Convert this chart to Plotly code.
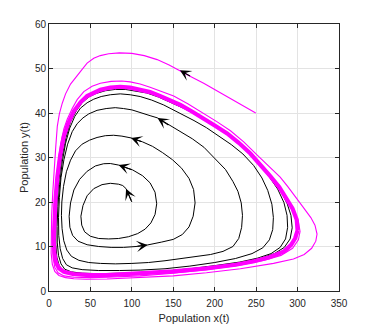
import plotly.graph_objects as go

# ---- black trajectory (spiral outward towards the limit cycle) ----
black_x = [100, 93, 89, 84, 74, 64, 54, 46, 41, 38.5, 39.5, 43, 50, 60, 72, 84, 96, 107, 116, 123, 128, 130,
           128, 122, 113, 101, 84, 74, 66, 56, 46, 37, 30, 26, 24.3, 25.2, 28.5, 35, 46, 60, 75, 90, 105, 119,
           136, 150, 161, 169, 174, 176.3, 174.5, 169, 160, 149, 137, 125, 113, 99, 88, 78, 68, 58, 49, 40,
           32, 26, 21, 17.5, 15.5, 15, 15.8, 17.8, 21.5, 27, 36, 48, 62, 80, 100, 120, 140, 160, 180, 195, 210,
           222, 229, 232.5, 233.5, 232, 228, 222, 213, 200, 187, 173, 159, 146, 131, 122, 110, 100, 90, 80, 69,
           58, 48, 41, 34, 28, 22.5, 18, 14.5, 12.5, 11.5, 11.8, 13.5, 16.5, 21, 28, 40, 60, 85, 110, 140, 170,
           200, 225, 245, 258, 266, 270, 270.8, 269, 264, 257, 247, 234, 220, 205, 190, 175, 162, 150, 138.5,
           124, 110, 98, 86, 74, 63, 54, 46, 38, 31, 25, 20, 16, 12.8, 10.7, 9.8, 10, 11.5, 14.5, 19, 27, 40, 60,
           85, 110, 140, 170, 200, 230, 252, 268, 279, 285.5, 288, 287.3, 283.5, 276, 266, 254, 240, 225, 210,
           194, 178, 162, 147, 132, 118, 104, 92, 80, 68, 57, 48, 40, 33, 26, 20.5, 15.5, 12, 9.5, 8.2, 8.2, 9.5,
           12.3, 17, 25, 40, 60, 85, 110, 140, 170, 200, 230, 255, 272, 284, 291, 293.5, 292, 287.5, 281]
black_y = [20, 23.0, 23.7, 24.0, 24.2, 23.9, 23.0, 21.4, 19.2, 16.8, 14.8, 13.3, 12.3, 11.8, 11.7, 11.8, 12.2,
           12.9, 13.9, 15.3, 17.2, 19.6, 22.2, 24.3, 25.9, 27.2, 28.3, 28.65, 28.6, 28.1, 26.9, 25.1, 22.7, 19.8,
           16.8, 14.3, 12.5, 11.2, 10.4, 10.0, 9.8, 9.8, 10.0, 10.35, 11.0, 11.6, 12.7, 14.4, 16.8, 19.8, 22.8,
           25.3, 27.6, 29.5, 31.1, 32.5, 33.5, 34.4, 34.8, 35.0, 34.9, 34.5, 33.9, 33.0, 31.5, 29.4, 26.8, 23.5,
           20, 17, 14, 11.3, 9.2, 7.8, 6.9, 6.4, 6.2, 6.1, 6.2, 6.4, 6.8, 7.3, 7.7, 8.2, 8.9, 10.0, 11.8, 14.3,
           17.0, 19.8, 22.4, 24.6, 27.3, 29.9, 32.3, 34.2, 35.8, 37.1, 38.9, 39.4, 40.2, 40.7, 41.0, 41.2, 41.0,
           40.6, 39.8, 38.9, 37.6, 35.8, 33, 29.5, 25.5, 21, 16.5, 12.5, 9.5, 7.3, 5.9, 5.2, 4.8, 4.6, 4.6, 4.7,
           5.0, 5.6, 6.4, 7.3, 8.4, 9.7, 11.5, 13.8, 16.5, 19.5, 22.6, 25.4, 28.2, 30.8, 32.9, 34.9, 36.7, 38.3,
           39.5, 40.6, 41.8, 42.9, 43.7, 44.1, 44.3, 44.1, 43.7, 43.1, 42.3, 41.1, 39.2, 36.6, 33.2, 29, 24, 19,
           14.5, 10.8, 8, 6.1, 4.9, 4.3, 4.0, 3.9, 3.95, 4.1, 4.5, 5.0, 5.7, 6.5, 7.4, 8.4, 9.8, 11.7, 14.3, 17,
           19.9, 22.9, 25.6, 28.5, 31.3, 33.8, 35.9, 37.8, 39.6, 41.1, 42.4, 43.6, 44.5, 45.0, 45.3, 45.3, 45.0,
           44.4, 43.6, 42.3, 40.5, 38, 34.5, 30, 25, 19.5, 14.5, 10.5, 7.6, 5.7, 4.6, 4.0, 3.75, 3.7, 3.75, 3.95,
           4.35, 4.85, 5.5, 6.3, 7.3, 8.4, 9.8, 11.7, 14.2, 17, 19.6, 22.0]

# ---- magenta trajectory (starts outside, winds in onto the limit cycle) ----
mag_x = [249.5, 232, 215, 200, 186.7, 172, 158, 145, 130.5, 115, 100, 85, 72, 62, 54, 46, 40, 33, 26, 20, 16,
         12.5, 10, 8, 6, 4.5, 3.2, 2.5, 2.6, 4, 7, 12, 20, 30, 45, 70, 110, 150, 190, 231, 271, 295, 308, 317,
         322, 323.5, 321, 316, 306, 297, 288, 279, 270, 259.5, 251, 235, 219, 203, 186.7, 168, 150.5, 134.5,
         122, 110, 98, 88, 75, 62, 52, 42, 34, 28, 22, 18, 14, 10.5, 7.5, 5.5, 4.5, 5, 7, 11, 18, 30, 50, 70,
         110, 150, 190, 230, 260, 280, 294, 301, 303, 301, 296, 290, 283, 270, 255]
mag_y = [40.0, 41.9, 43.6, 45.2, 46.7, 48.1, 49.6, 50.8, 52.0, 52.9, 53.4, 53.5, 53.3, 52.9, 52.3, 51.2, 49.8,
         48.2, 46.5, 44.3, 42.2, 39.8, 37, 32, 27, 22, 17, 12, 8.5, 6, 4.4, 3.5, 3.0, 2.75, 2.65, 2.7, 3.0,
         3.4, 4.1, 5.0, 6.2, 7.2, 8.2, 9.6, 11.2, 12.8, 14.8, 16.5, 19, 21.3, 23.5, 25.6, 27.2, 28.9, 30.6,
         33.5, 36.0, 38.0, 39.9, 42.0, 43.8, 45.0, 45.8, 46.5, 47.0, 47.2, 47.1, 46.7, 46.0, 44.8, 43.0, 41.0,
         38.6, 36.5, 33, 28, 22, 16, 11, 7.5, 5.3, 4.1, 3.4, 3.1, 3.0, 3.1, 3.4, 4.0, 4.8, 5.8, 6.9, 8.0, 9.6,
         11.5, 13.4, 15.6, 17.6, 19.6, 21.8, 25.2, 28.6]

# ---- limit cycle (thick magenta band) ----
cyc_x = [300, 299, 294, 287, 278, 267, 255, 243, 229, 215, 200, 186.7, 172, 158.6, 146, 134.5, 122, 110, 98,
         86, 74, 62, 53, 46, 38, 30, 23, 18, 13.5, 10, 7.8, 6.3, 5.8, 6.5, 8.5, 12, 18, 30, 50, 70, 110, 150,
         190, 225, 247.5, 266, 283.6, 292, 297, 300]
cyc_y = [13.6, 16.0, 18.5, 20.8, 23.3, 25.8, 28.5, 30.9, 33.3, 35.4, 37.2, 38.8, 40.4, 41.8, 42.9, 43.8, 44.7,
         45.3, 45.7, 45.9, 45.7, 45.2, 44.5, 43.8, 42.4, 40.4, 37.6, 34.8, 30.5, 25.5, 20.4, 15.5, 11.5, 8.5,
         6.4, 5.1, 4.3, 3.8, 3.55, 3.55, 3.9, 4.4, 5.1, 5.9, 6.7, 7.6, 8.9, 10.3, 11.8, 13.6]

# arrow heads: index of the tip point along each trajectory (tail = previous point)
black_arrows = [1, 26, 43, 57, 98]
mag_arrows = [6]

x_ticks = [0, 50, 100, 150, 200, 250, 300, 350]
y_ticks = [0, 10, 20, 30, 40, 50, 60]

FONT = "Liberation Sans, Arial, sans-serif"

fig = go.Figure()
fig.add_trace(go.Scatter(x=black_x, y=black_y, mode="lines",
                         line=dict(color="#000000", width=1.0), hoverinfo="skip"))
fig.add_trace(go.Scatter(x=cyc_x, y=cyc_y, mode="lines",
                         line=dict(color="#ff00ff", width=4.2), hoverinfo="skip"))
fig.add_trace(go.Scatter(x=mag_x, y=mag_y, mode="lines",
                         line=dict(color="#ff00ff", width=1.1), hoverinfo="skip"))

annotations = []
for xs, ys, idxs in [(black_x, black_y, black_arrows), (mag_x, mag_y, mag_arrows)]:
    for i in idxs:
        annotations.append(dict(x=xs[i], y=ys[i], ax=xs[i - 1], ay=ys[i - 1],
                                xref="x", yref="y", axref="x", ayref="y",
                                showarrow=True, arrowhead=3, arrowsize=1.7,
                                arrowwidth=1.1, arrowcolor="#000000", standoff=0, text=""))

axis_common = dict(showline=True, linecolor="#262626", linewidth=1, mirror="ticks",
                   ticks="inside", ticklen=4, tickcolor="#262626", automargin=False,
                   showgrid=True, gridcolor="#e3e3e3", gridwidth=1, zeroline=False,
                   tickfont=dict(family=FONT, size=10, color="#262626"))

# the page body has an 8px default margin, so the figure is sized to fit the window
fig.update_layout(
    width=366, height=319,
    margin=dict(l=40.5, r=35.3, t=16, b=36.3, autoexpand=False),
    paper_bgcolor="white", plot_bgcolor="white",
    showlegend=False,
    annotations=annotations,
    xaxis=dict(range=[0, 350], tickvals=x_ticks, ticktext=[str(v) for v in x_ticks],
               ticklabelstandoff=3,
               title=dict(text="Population x(t)", standoff=6,
                          font=dict(family=FONT, size=11, color="#262626")),
               **axis_common),
    yaxis=dict(range=[0, 60], tickvals=y_ticks, ticktext=[str(v) for v in y_ticks],
               title=dict(text="Population y(t)", standoff=4,
                          font=dict(family=FONT, size=11, color="#262626")),
               **axis_common),
)

fig.write_html("out.html", config={"displayModeBar": False})
